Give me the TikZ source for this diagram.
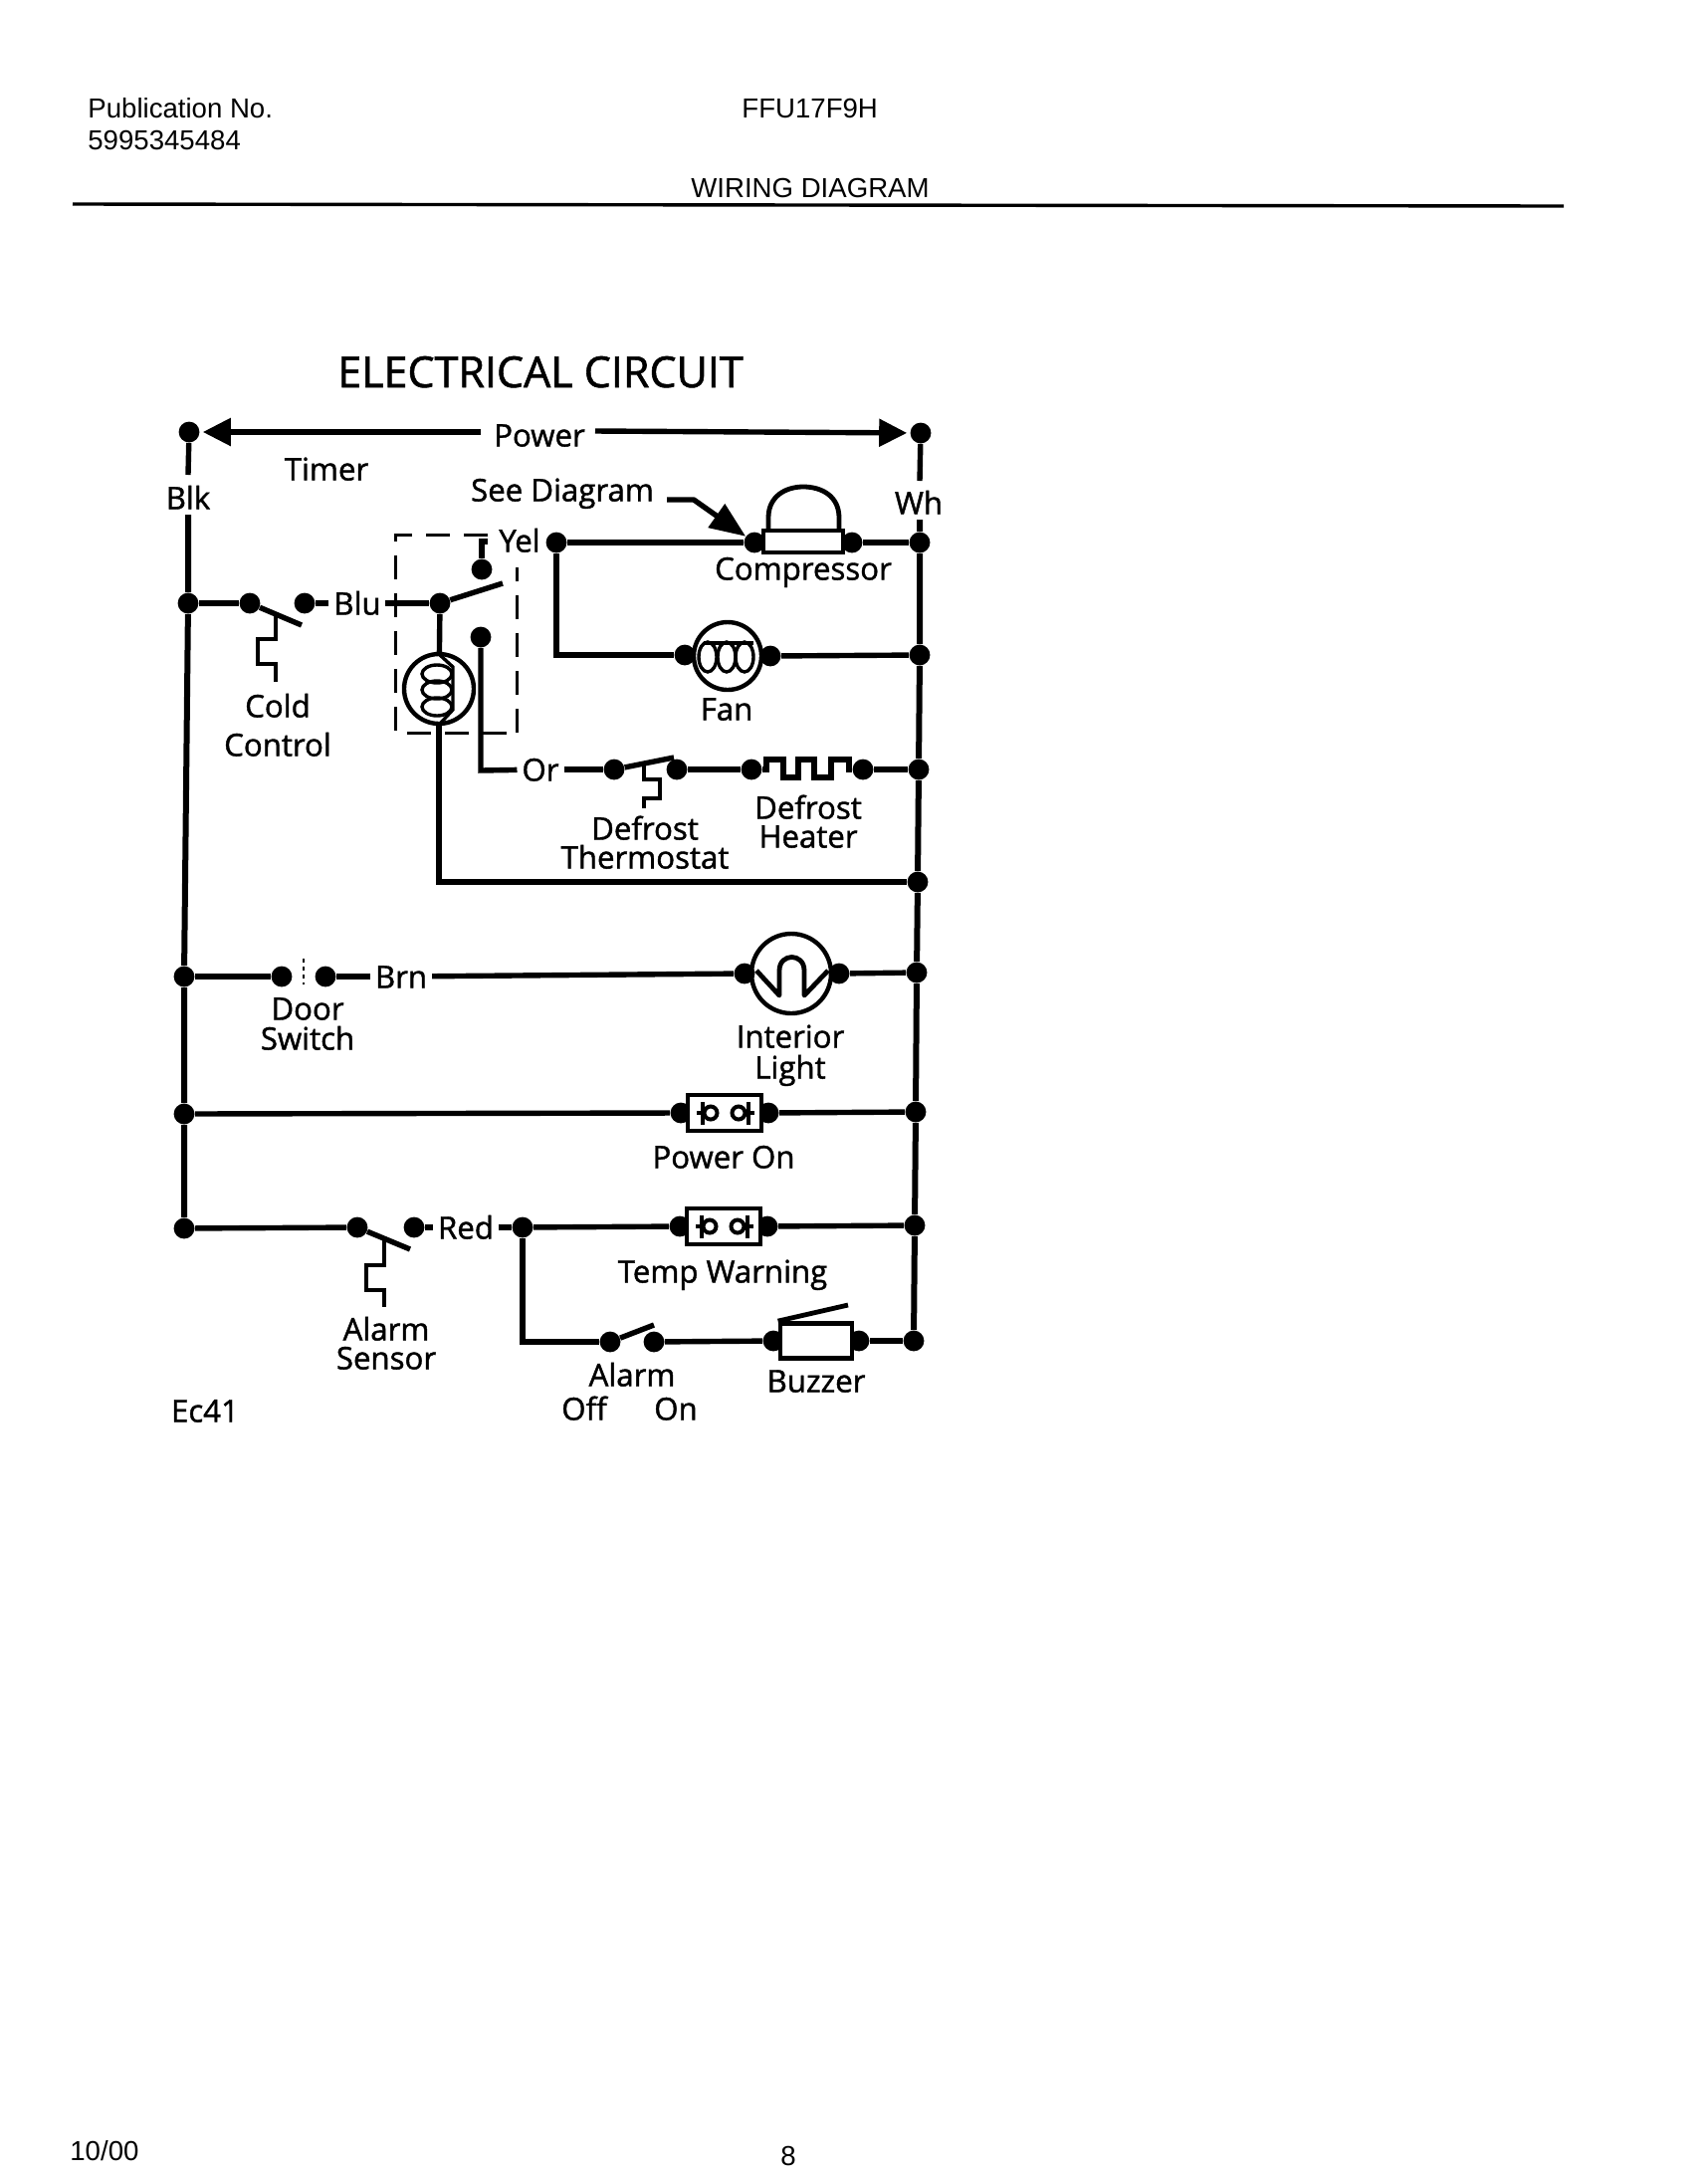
\documentclass[tikz,border=0pt]{standalone}
\usepackage{fontspec}
\setmainfont{Liberation Sans}
\newfontfamily\wirefont[FakeBold=1.3]{Open Sans}
\usetikzlibrary{arrows.meta}
\tikzset{
  wire/.style={line width=2.7pt, line join=miter},
  rail/.style={line width=3pt},
  dot/.style={circle, fill, inner sep=0, minimum size=10.4pt},
  lbl/.style={font=\wirefont\fontsize{15.6}{18}\selectfont, inner sep=0, text height=11.5pt, text depth=0pt},
  tag/.style={lbl, outer sep=2.5pt},
  head/.style={font=\fontsize{13.8}{16}\selectfont, inner sep=0, text height=10pt, text depth=0pt},
  lamp/.style={circle, draw, fill=white, line width=2.2pt, inner sep=0},
}
% thermal sensor: #1 x of the long leg, #2 step to the side, #3..#6 y levels
\newcommand\sensor[6]{
    \draw [wire, line width=2.2pt] (#1,#3) -- (#1,#4) -- ({#1+#2},#4) -- ({#1+#2},#5) -- (#1,#5) -- (#1,#6);
}
% neon indicator: #1 name, #2 left edge of the box, #3 y
\newcommand\neon[3]{
    \node [dot] (#1L) at (#2-6,#3) {};
    \node [dot] (#1R) at (#2+82,#3) {};
    \node [draw, fill=white, line width=2.4pt, inner sep=0, minimum width=37pt, minimum height=18pt] (#1) at (#2+38,#3) {};
    \draw [line width=2pt] (#2+10,#3) -- (#2+16,#3) (#2+16,#3-11) -- (#2+16,#3+12);
    \draw [line width=2pt] (#2+24,#3) circle [radius=6.5];
    \draw [line width=2pt] (#2+52,#3) circle [radius=6.5];
    \draw [line width=2pt] (#2+62,#3-11) -- (#2+62,#3+12) (#2+62,#3) -- (#2+68,#3);
}
\begin{document}
\begin{tikzpicture}[x=0.5pt,y=-0.5pt]
\useasboundingbox (0,0) rectangle (1716,2191);

% Header
\node [head, anchor=west] (pub) at (88,108) {Publication No.};
\node [head, anchor=west] (pubno) at (88,140) {5995345484};
\node [head, anchor=west] (model) at (745,108) {FFU17F9H};
\node [head, anchor=west] (wd) at (694,188) {WIRING DIAGRAM};
\coordinate (ruleL) at (73,205);
\coordinate (ruleR) at (1571,207);
\draw [line width=1.7pt] (ruleL) -- (ruleR);
\node [head, anchor=west] (date) at (70,2160) {10/00};
\node [head] (page) at (792,2165) {8};

% Title
\node [lbl, font=\wirefont\fontsize{21.5}{24}\selectfont, text height=16pt] (title) at (543,373) {ELECTRICAL CIRCUIT};

% Labels
\node [lbl] (power) at (542,437) {Power};
\node [lbl] (timer) at (328,471) {Timer};
\node [lbl] (seed) at (565,492) {See Diagram};
\node [lbl] (blk) at (189,500) {Blk};
\node [lbl] (wh) at (923,505) {Wh};
\node [lbl] (yel) at (522,543) {Yel};
\node [lbl] (compl) at (807,571) {Compressor};
\node [lbl] (fanl) at (730,712) {Fan};
\node [lbl] (cold) at (279,709) {Cold};
\node [lbl] (ctrl) at (279,748) {Control};
\node [lbl] (dfh1) at (812,811) {Defrost};
\node [lbl] (dfh2) at (812,840) {Heater};
\node [lbl] (dft1) at (648,832) {Defrost};
\node [lbl] (dft2) at (648,861) {Thermostat};
\node [lbl] (door) at (309,1013) {Door};
\node [lbl] (swit) at (309,1043) {Switch};
\node [lbl] (inte) at (794,1041) {Interior};
\node [lbl] (ligh) at (794,1072) {Light};
\node [lbl] (ponl) at (727,1162) {Power On};
\node [lbl] (twl) at (726,1277) {Temp Warning};
\node [lbl] (als1) at (388,1335) {Alarm};
\node [lbl] (als2) at (388,1364) {Sensor};
\node [lbl] (ec) at (206,1417) {Ec41};
\node [lbl] (alm) at (635,1381) {Alarm};
\node [lbl] (off) at (587,1415) {Off};
\node [lbl] (on) at (679,1415) {On};
\node [lbl] (buzl) at (820,1387) {Buzzer};
\node [tag] (blu) at (359,606) {Blu};
\node [tag] (orl) at (543,773) {Or};
\node [tag] (brn) at (403,981) {Brn};
\node [tag] (red) at (468,1233) {Red};

% Dots
\foreach \n/\x/\y in {topL/190/434, topR/925/435,
    jL1/189/606, jL2/185/981, jL3/185/1119, jL4/185/1234,
    jR1/924/545, jR2/924/658, jR3/923/773, jR4/922/886, jR5/921/977, jR6/920/1117, jR7/919/1231, jR8/918/1347,
    ccA/251/606, ccB/306/606, tmC/442/606, tmN/484/572, tmD/483/640, yelD/559/545,
    cmpL/758/545, cmpR/856/545,
    dtA/617/773, dtB/680/773, dhA/755/773, dhB/867/773,
    dsA/283/981, dsB/327/981,
    asA/359/1233, asB/416/1233, jT/525/1233, alA/613/1348, alB/657/1348, bzL/777/1347, bzR/863/1347} {
    \node [dot] (\n) at (\x,\y) {};
}

% Corner and free end points
\foreach \n/\x/\y in {pwrL/483/434, pwrR/598/433, blkU/189/477, blkD/189/517, whU/924/483, whD/924/522,
    sdA/670/502, sdB/697/502, fanC/559/658, orC/483/774, tmB/441/886, alC/525/1348,
    ccE/303/628, tmE/505/586, tmH/490/544, tmU/484/544, dtE/677/761, asE/412/1255, alE/657/1331,
    bzE/852/1311, bluR/387/606, dsU/305/963, dsV/305/989} {
    \coordinate (\n) at (\x,\y);
}

% Power arrows
\draw [wire, -{Triangle[length=14pt,width=13.5pt]}, shorten >=1.5pt] (pwrL) -- (topL);
\draw [wire, -{Triangle[length=14pt,width=13.5pt]}, shorten >=1.5pt] (pwrR) -- (topR);
\draw [wire, line join=round, -{Triangle[length=18pt,width=14pt]}] (sdA) -- (sdB) -- (cmpL);

% Rails
\draw [wire] (topL) -- (blkU);
\draw [rail] (blkD) -- (jL1) -- (jL2) -- (jL3) -- (jL4);
\draw [wire] (topR) -- (whU);
\draw [rail] (whD) -- (jR1) -- (jR2) -- (jR3) -- (jR4) -- (jR5) -- (jR6) -- (jR7) -- (jR8);

% Cold control and timer
\draw [wire] (jL1) -- (ccA);
\draw [wire] (ccA) -- (ccE);
\draw [wire] (ccB) -- (blu);
\draw [wire] (bluR) -- (tmC);
\draw [wire] (tmC) -- (tmE);
\draw [wire] (tmN) -- (tmU) -- (tmH);
\draw [wire] (tmD) -- (orC) -- (orl);
\sensor{277}{-18}{618}{642}{667}{685}

% Timer motor
\node [lamp, minimum size=35pt] (motor) at (441,692) {};
\draw [wire] (tmC) -- (motor);
\draw [wire] (motor) -- (tmB) -- (jR4);
\foreach \y in {677,693,710} {
    \draw [line width=1.7pt] (439,\y) ellipse [x radius=15, y radius=9];
}
\draw [line width=1.7pt] (442,658) -- (455,670) -- (455,713) -- (442,727);

% Dashed box
\draw [line width=1.5pt, dash pattern=on 12pt off 7pt] (490,537) -- (397,537) -- (397,736) -- (519,736);
\draw [line width=1.5pt, dash pattern=on 12pt off 7pt] (519,736) -- (519,570);

% Compressor
\draw [wire] (yelD) -- (cmpL);
\draw [wire] (cmpR) -- (jR1);
\draw [line width=2.4pt] (772,533) -- (772,520) .. controls (772,498) and (790,489) .. (807,489) .. controls (825,489) and (843,498) .. (843,520) -- (843,533);
\node [draw, fill=white, line width=2.4pt, inner sep=0, minimum width=40pt, minimum height=11pt] (comp) at (807,544) {};

% Fan
\node [lamp, minimum size=34pt] (fan) at (731,659) {};
\node [dot] (fanL) at (688,658) {};
\node [dot] (fanR) at (774,659) {};
\draw [wire] (yelD) -- (fanC) -- (fanL);
\draw [wire] (fanR) -- (jR2);
\foreach \x in {711,730,748} {
    \draw [line width=1.7pt] (\x,660) ellipse [x radius=9, y radius=15];
}
\draw [line width=1.7pt] (707,646) -- (757,646);

% Defrost
\draw [wire] (orl) -- (dtA);
\draw [wire] (dtA) -- (dtE);
\draw [wire] (dtB) -- (dhA);
\draw [wire] (dhB) -- (jR3);
\draw [wire] (dhA) -- (770,773) -- (770,763) -- (787,763) -- (787,781) -- (802,781) -- (802,763) -- (818,763) -- (818,781) -- (835,781) -- (835,763) -- (853,763) -- (853,773) -- (dhB);
\sensor{647}{16}{765}{783}{802}{812}

% Door switch and light
\draw [wire] (jL2) -- (dsA);
\draw [line width=0.6pt, dash pattern=on 2pt off 2pt] (dsU) -- (dsV);
\draw [wire] (dsB) -- (brn);
\node [lamp, minimum size=40pt] (light) at (795,978) {};
\node [dot] (ltL) at (748,978) {};
\node [dot] (ltR) at (843,978) {};
\draw [wire] (brn) -- (ltL);
\draw [wire] (ltR) -- (jR5);
\draw [line width=2.4pt, line join=round] (760,975) -- (783,1000) -- (783,975) .. controls (783,957) and (808,957) .. (808,975) -- (808,1000) -- (832,975);

% Power on
\neon{pon}{690}{1118}
\draw [wire] (jL3) -- (ponL);
\draw [wire] (ponR) -- (jR6);

% Alarm sensor and temp warning
\draw [wire] (jL4) -- (asA);
\draw [wire] (asA) -- (asE);
\draw [wire] (asB) -- (red);
\draw [wire] (red) -- (jT);
\sensor{386}{-18}{1245}{1271}{1296}{1313}
\neon{tw}{689}{1232}
\draw [wire] (jT) -- (twL);
\draw [wire] (twR) -- (jR7);

% Alarm and buzzer
\draw [wire] (jT) -- (alC) -- (alA);
\draw [wire] (alA) -- (alE);
\draw [wire] (alB) -- (bzL);
\draw [wire] (bzR) -- (jR8);
\node [draw, fill=white, line width=2.4pt, inner sep=0, minimum width=36pt, minimum height=17.5pt] (buzz) at (820,1347) {};
\draw [wire, line width=2.4pt] (buzz.north west) -- (bzE);

\end{tikzpicture}
\end{document}
